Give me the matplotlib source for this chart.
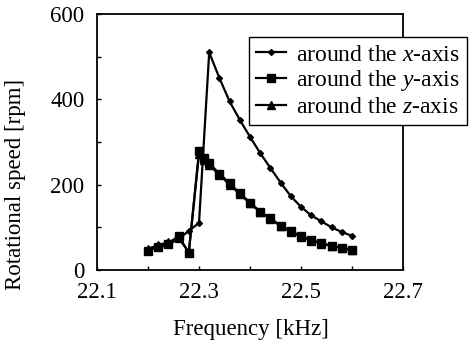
import matplotlib
matplotlib.use("Agg")
import matplotlib.pyplot as plt
from matplotlib.ticker import MultipleLocator, FixedLocator

plt.rcParams['font.family'] = ['Liberation Serif', 'DejaVu Serif']
plt.rcParams['mathtext.fontset'] = 'custom'
plt.rcParams['mathtext.it'] = 'Liberation Serif:italic'
plt.rcParams['mathtext.rm'] = 'Liberation Serif'

freq_x = [22.20, 22.22, 22.24, 22.26, 22.28, 22.30, 22.32, 22.34, 22.36, 22.38,
          22.40, 22.42, 22.44, 22.46, 22.48, 22.50, 22.52, 22.54, 22.56, 22.58, 22.60]
speed_x = [48, 52, 60, 72, 92, 110, 510, 450, 395, 352,
           312, 274, 239, 205, 173, 148, 128, 114, 100, 89, 80]

freq_yz = [22.20, 22.22, 22.24, 22.26, 22.28, 22.30, 22.31, 22.32, 22.34, 22.36, 22.38,
           22.40, 22.42, 22.44, 22.46, 22.48, 22.50, 22.52, 22.54, 22.56, 22.58, 22.60]
speed_y = [45, 55, 62, 80, 40, 278, 262, 250, 226, 203, 180,
           158, 137, 121, 104, 91, 79, 70, 63, 57, 52, 47]
speed_z = [50, 58, 65, 75, 42, 272, 258, 246, 223, 200, 178,
           156, 136, 120, 103, 90, 78, 69, 62, 56, 51, 46]

labels = ["around the $x$-axis", "around the $y$-axis", "around the $z$-axis"]
FS = 16.5

fig = plt.figure(figsize=(4.77, 3.46), dpi=100)
ax = fig.add_axes([97/477, 76/346, 306/477, 256/346])

ax.plot(freq_x, speed_x, color='black', lw=1.6, marker='D', ms=3, label=labels[0])
ax.plot(freq_yz, speed_y, color='black', lw=1.6, marker='s', ms=5.5, label=labels[1])
ax.plot(freq_yz, speed_z, color='black', lw=1.6, marker='^', ms=5.5, label=labels[2])

ax.set_xlim(22.1, 22.7)
ax.set_ylim(0, 600)
ax.xaxis.set_major_locator(FixedLocator([22.1, 22.3, 22.5, 22.7]))
ax.xaxis.set_minor_locator(FixedLocator([22.2, 22.4, 22.6]))
ax.yaxis.set_major_locator(MultipleLocator(200))
ax.yaxis.set_minor_locator(MultipleLocator(100))
ax.tick_params(axis='both', which='both', direction='in', length=3, width=1,
               labelsize=FS, top=False, right=False)
ax.tick_params(axis='x', which='major', pad=9)
ax.tick_params(axis='y', which='major', pad=9)
ax.set_xticklabels(['22.1', '22.3', '22.5', '22.7'])
for s in ax.spines.values():
    s.set_linewidth(1.3)

fig.text(251/477, 1 - 329/346, 'Frequency [kHz]', fontsize=FS, ha='center', va='center')
fig.text(16/477, 1 - 184/346, 'Rotational speed [rpm]', fontsize=FS, ha='center',
         va='center', rotation=90)

leg = ax.legend(loc='upper left', bbox_to_anchor=(249/477, 1 - 37/346),
                bbox_transform=fig.transFigure, fontsize=17, frameon=True,
                fancybox=False, edgecolor='black', framealpha=1,
                handlelength=1.25, handletextpad=0.45, borderpad=0.3,
                labelspacing=0.12, borderaxespad=0)
leg.get_frame().set_linewidth(1.0)

fig.savefig('out.png', dpi=100)
